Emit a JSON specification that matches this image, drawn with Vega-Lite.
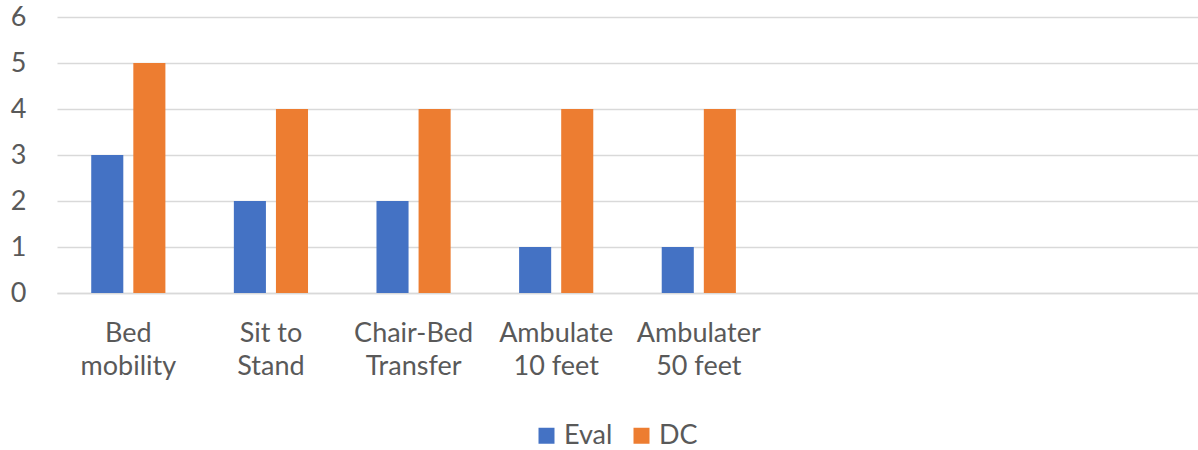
{
  "$schema": "https://vega.github.io/schema/vega-lite/v6.json",
  "width": 1141,
  "height": 276,
  "autosize": {"type": "none"},
  "padding": {"left": 57, "top": 17, "right": 0, "bottom": 157},
  "background": "white",
  "config": {
    "font": "Lato",
    "view": {"stroke": null},
    "axis": {"labelFont": "Lato", "labelColor": "#595959", "labelFontSize": 27}
  },
  "data": {
    "values": [
      {"task": "Bed mobility", "series": "Eval", "score": 3},
      {"task": "Bed mobility", "series": "DC", "score": 5},
      {"task": "Sit to Stand", "series": "Eval", "score": 2},
      {"task": "Sit to Stand", "series": "DC", "score": 4},
      {"task": "Chair-Bed Transfer", "series": "Eval", "score": 2},
      {"task": "Chair-Bed Transfer", "series": "DC", "score": 4},
      {"task": "Ambulate 10 feet", "series": "Eval", "score": 1},
      {"task": "Ambulate 10 feet", "series": "DC", "score": 4},
      {"task": "Ambulater 50 feet", "series": "Eval", "score": 1},
      {"task": "Ambulater 50 feet", "series": "DC", "score": 4}
    ]
  },
  "mark": {"type": "bar"},
  "encoding": {
    "x": {
      "field": "task",
      "type": "nominal",
      "sort": null,
      "title": null,
      "scale": {
        "domain": ["Bed mobility", "Sit to Stand", "Chair-Bed Transfer", "Ambulate 10 feet", "Ambulater 50 feet", "e1", "e2", "e3"],
        "paddingInner": 0.48,
        "paddingOuter": 0.24
      },
      "axis": {
        "labelAngle": 0,
        "ticks": false,
        "domain": true,
        "domainColor": "#d9d9d9",
        "domainWidth": 1.5,
        "grid": false,
        "labelPadding": 27,
        "labelLineHeight": 33,
        "labelBaseline": "top",
        "labelExpr": "datum.value == 'Bed mobility' ? ['Bed', 'mobility'] : datum.value == 'Sit to Stand' ? ['Sit to', 'Stand'] : datum.value == 'Chair-Bed Transfer' ? ['Chair-Bed', 'Transfer'] : datum.value == 'Ambulate 10 feet' ? ['Ambulate', '10 feet'] : datum.value == 'Ambulater 50 feet' ? ['Ambulater', '50 feet'] : ''"
      }
    },
    "xOffset": {
      "field": "series",
      "type": "nominal",
      "sort": ["Eval", "DC"],
      "scale": {"paddingInner": 0.238, "paddingOuter": 0}
    },
    "y": {
      "field": "score",
      "type": "quantitative",
      "title": null,
      "scale": {"domain": [0, 6], "nice": false},
      "axis": {
        "values": [0, 1, 2, 3, 4, 5, 6],
        "domain": false,
        "ticks": false,
        "grid": true,
        "gridColor": "#d9d9d9",
        "gridWidth": 1.5,
        "labelPadding": 31
      }
    },
    "color": {
      "field": "series",
      "type": "nominal",
      "sort": ["Eval", "DC"],
      "scale": {"domain": ["Eval", "DC"], "range": ["#4472C4", "#ED7D31"]},
      "legend": {
        "title": null,
        "orient": "none",
        "legendX": 476,
        "legendY": 405,
        "direction": "horizontal",
        "symbolType": "square",
        "symbolSize": 256,
        "symbolStrokeWidth": 0,
        "labelFont": "Lato",
        "labelFontSize": 27,
        "labelColor": "#595959",
        "columnPadding": 15,
        "labelOffset": 4
      }
    }
  }
}
